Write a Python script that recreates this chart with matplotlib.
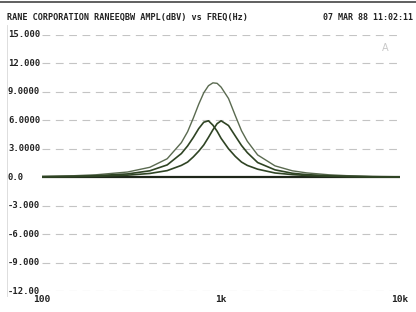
import numpy as np
import matplotlib.pyplot as plt

# Frequencies (Hz) and amplitude readings (dBV) for the two bands and their sum
freq = [100, 150, 200, 300, 400, 500, 600, 650, 700, 750, 800, 850, 900, 950,
        1000, 1100, 1200, 1300, 1400, 1600, 2000, 2500, 3000, 4000, 5000, 7000, 10000]
band_a = [0.06, 0.10, 0.16, 0.35, 0.68, 1.30, 2.50, 3.30, 4.20, 5.13, 5.80, 5.95, 5.49, 4.85,
          4.10, 3.00, 2.20, 1.60, 1.25, 0.85, 0.45, 0.28, 0.19, 0.11, 0.07, 0.04, 0.02]
band_b = [0.03, 0.06, 0.10, 0.22, 0.40, 0.70, 1.25, 1.60, 2.15, 2.75, 3.40, 4.20, 5.00, 5.65,
          5.95, 5.45, 4.35, 3.35, 2.60, 1.55, 0.78, 0.42, 0.28, 0.15, 0.10, 0.05, 0.03]
combined = [0.09, 0.16, 0.26, 0.55, 1.05, 1.95, 3.65, 4.80, 6.25, 7.70, 8.90, 9.65, 9.95, 9.90,
            9.50, 8.30, 6.50, 4.90, 3.80, 2.35, 1.20, 0.68, 0.46, 0.26, 0.17, 0.09, 0.05]

y_ticks = [15, 12, 9, 6, 3, 0, -3, -6, -9, -12]
y_labels = ["15.000", "12.000", "9.0000", "6.0000", "3.0000", "0.0",
            "-3.000", "-6.000", "-9.000", "-12.00"]
x_ticks = [100, 1000, 10000]
x_labels = ["100", "1k", "10k"]

mono = "DejaVu Sans Mono"
fig = plt.figure(figsize=(4.16, 3.12), dpi=100)
ax = fig.add_axes([0.101, 0.067, 0.861, 0.821])

# grid lines
for v in y_ticks:
    if v == 0:
        ax.axhline(v, color="#1e261a", lw=1.6, zorder=2)
    else:
        ax.axhline(v, color="#c4c4c4", lw=0.8, ls=(0, (7, 5)), zorder=1)

ax.plot(freq, combined, color="#5a6a50", lw=1.0, zorder=3)
ax.plot(freq, band_a, color="#2f4424", lw=1.2, zorder=4)
ax.plot(freq, band_b, color="#2f4424", lw=1.2, zorder=4)

ax.set_xscale("log")
ax.set_xlim(100, 10000)
ax.set_ylim(-12, 15)
for s in ax.spines.values():
    s.set_visible(False)
ax.set_xticks([])
ax.set_yticks([])
ax.minorticks_off()

# tick labels drawn as text, in the plotter's style
for v, lab in zip(y_ticks, y_labels):
    ax.text(-0.095, v, lab, transform=ax.get_yaxis_transform(), ha="left", va="center",
            fontsize=6.4, family=mono, fontweight="bold", color="#222222")
for v, lab in zip(x_ticks, x_labels):
    ax.text(v, -12.9, lab, ha="center", va="center", fontsize=6.8, family=mono,
            fontweight="bold", color="#222222")

fig.text(0.017, 0.945, "RANE CORPORATION RANEEQBW AMPL(dBV) vs FREQ(Hz)", ha="left",
         va="center", fontsize=6.1, family=mono, fontweight="bold", color="#222222")
fig.text(0.993, 0.945, "07 MAR 88 11:02:11", ha="right", va="center", fontsize=6.0,
         family=mono, fontweight="bold", color="#222222")
fig.text(0.925, 0.845, "A", ha="center", va="center", fontsize=7, color="#c8c8c8")

# border lines of the scanned sheet
fig.add_artist(plt.Line2D([0.0, 1.0], [0.993, 0.993], color="#444444", lw=1.2))
fig.add_artist(plt.Line2D([0.017, 0.017], [0.05, 0.92], color="#d8d8d8", lw=0.6))

fig.savefig("out.png", dpi=100)
